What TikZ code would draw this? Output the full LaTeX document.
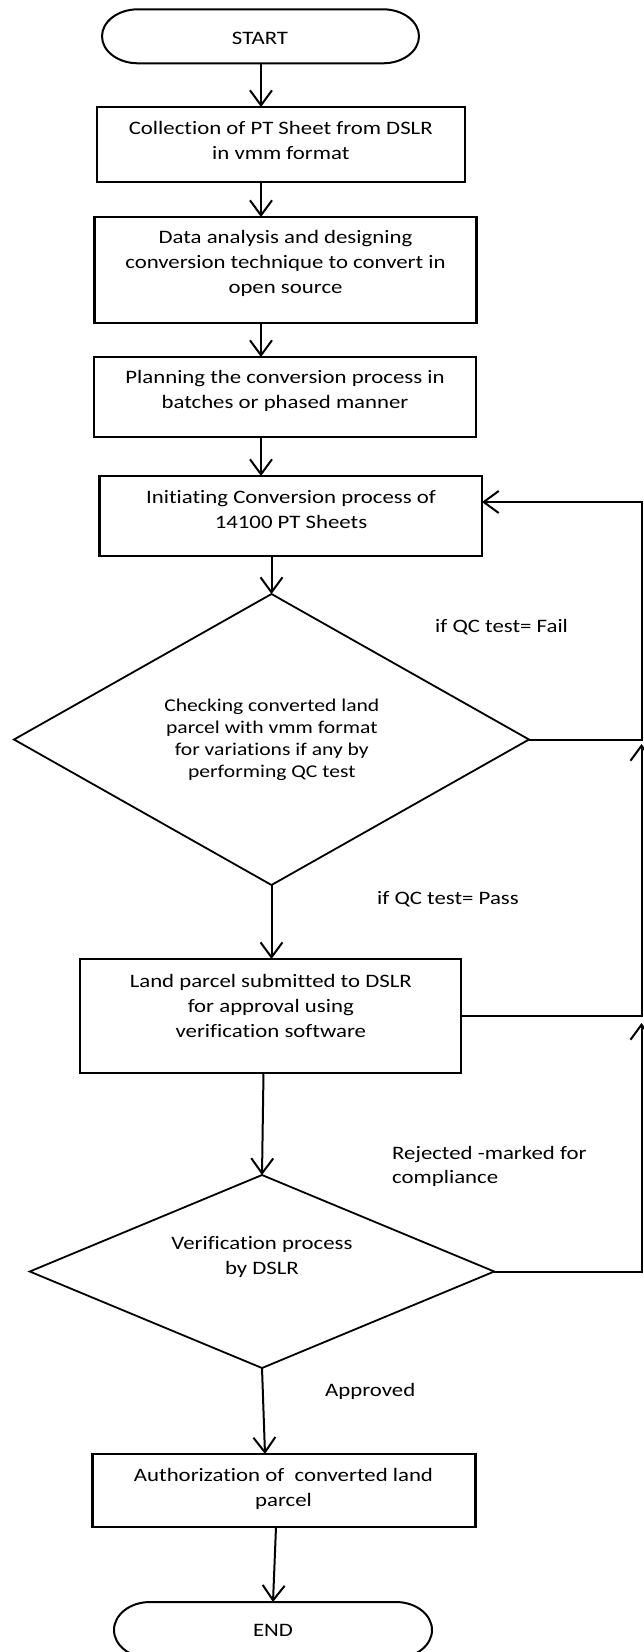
\documentclass[tikz,border=0pt]{standalone}
\usepackage{fontspec}
\setmainfont{Carlito}[FakeStretch=1.2,Ligatures=NoCommon]
\usetikzlibrary{arrows.meta,shapes.geometric}
\begin{document}
\begin{tikzpicture}[x=1pt,y=1pt,
  shp/.style={draw, line width=2.2pt, inner sep=0pt, outer sep=0pt},
  ghost/.style={inner sep=0pt, outer sep=0pt},
  dia/.style={draw, diamond, line width=1.8pt, inner sep=0pt, outer sep=0pt},
  txt/.style={align=center, inner sep=0pt, font=\fontsize{19}{25}\selectfont},
  dtxt/.style={align=center, inner sep=0pt, font=\fontsize{18}{22}\selectfont},
  lbl/.style={align=left, anchor=west, inner sep=0pt, font=\fontsize{19}{24}\selectfont},
  conn/.style={line width=2pt, -{Straight Barb[length=15pt,width=22pt]}},
  fb/.style={line width=2pt},
  stad/.style={line width=2pt}]
\useasboundingbox (0,0) rectangle (643,-1652);

% shapes
\node[ghost, minimum width=317pt, minimum height=54pt] (start) at (260.5,-36.3) {};
\draw[stad] ([xshift=36pt]start.north west) -- ([xshift=-36pt]start.north east)
  arc[start angle=90, end angle=-90, x radius=36pt, y radius=27pt]
  -- ([xshift=36pt]start.south west)
  arc[start angle=270, end angle=90, x radius=36pt, y radius=27pt] -- cycle;
\node[shp, minimum width=368.4pt, minimum height=75pt] (b1) at (280.8,-144.5) {};
\node[shp, minimum width=382pt, minimum height=106pt] (b2) at (285.5,-270) {};
\node[shp, minimum width=382pt, minimum height=80pt] (b3) at (285,-397) {};
\node[shp, minimum width=382.5pt, minimum height=80pt] (b4) at (290.75,-516) {};
\node[dia, minimum width=515pt, minimum height=291pt] (d1) at (271.5,-739.5) {};
\node[shp, minimum width=381pt, minimum height=114pt] (b5) at (270.5,-1016) {};
\node[dia, minimum width=464.5pt, minimum height=193pt] (d2) at (262,-1271.5) {};
\node[shp, minimum width=383pt, minimum height=73pt] (b6) at (284,-1490.5) {};
\node[ghost, minimum width=318pt, minimum height=56pt] (end) at (273,-1630) {};
\draw[stad] ([xshift=36pt]end.north west) -- ([xshift=-36pt]end.north east)
  arc[start angle=90, end angle=-90, x radius=36pt, y radius=28pt]
  -- ([xshift=36pt]end.south west)
  arc[start angle=270, end angle=90, x radius=36pt, y radius=28pt] -- cycle;

% texts
\node[txt] (t0) at (260,-38) {START};
\node[txt] (t1) at (280.8,-140.5) {Collection of PT Sheet from DSLR\\in vmm format};
\node[txt] (t2) at (285.5,-263.3) {Data analysis and designing\\conversion technique to convert in\\open source};
\node[txt] (t3) at (285,-391) {Planning the conversion process in\\batches or phased manner};
\node[txt] (t4) at (291,-510) {Initiating Conversion process of\\14100 PT Sheets};
\node[dtxt] (t5) at (271.8,-740) {Checking converted land\\parcel with vmm format\\for variations if any by\\performing QC test};
\node[txt] (t6) at (270.8,-1006) {Land parcel submitted to DSLR\\for approval using\\verification software};
\node[txt] (t7) at (262,-1256.5) {Verification process\\by DSLR};
\node[txt] (t8) at (283.5,-1488.5) {Authorization of\ \ converted land\\parcel};
\node[txt] (t9) at (273,-1630) {END};

% labels
\node[lbl] (l1) at (435,-627) {if QC test= Fail};
\node[lbl] (l2) at (377,-899) {if QC test= Pass};
\node[lbl] (l3) at (392,-1166) {Rejected -marked for\\compliance};
\node[lbl] (l4) at (325,-1391) {Approved};

% main flow
\coordinate (cx) at (261,0);
\coordinate (r) at (641.5,0);
\draw[conn] (start.south -| cx) -- (b1.north -| cx);
\draw[conn] (b1.south -| cx) -- (b2.north -| cx);
\draw[conn] (b2.south -| cx) -- (b3.north -| cx);
\draw[conn] (b3.south -| cx) -- (b4.north -| cx);
\draw[conn] (b4.south -| d1.north) -- (d1.north);
\draw[conn] (d1.south) -- (d1.south |- b5.north);
\draw[conn] ([xshift=1.5pt]b5.south -| d2.north) -- (d2.north);
\draw[conn] (d2.south) -- ([xshift=3pt]d2.south |- b6.north);
\draw[conn] ([xshift=3pt]end.north |- b6.south) -- (end.north);

% feedback loops
\draw[fb, conn] (d1.east) -- (d1.east -| r) -- ([yshift=14pt]b4.east -| r) -- ([yshift=14pt]b4.east);
\draw[fb, conn] (b5.east) -- (b5.east -| r) -- ([yshift=-4.5pt]d1.east -| r);
\draw[fb, conn] (d2.east) -- (d2.east -| r) -- ([yshift=-7pt]b5.east -| r);
\end{tikzpicture}
\end{document}
